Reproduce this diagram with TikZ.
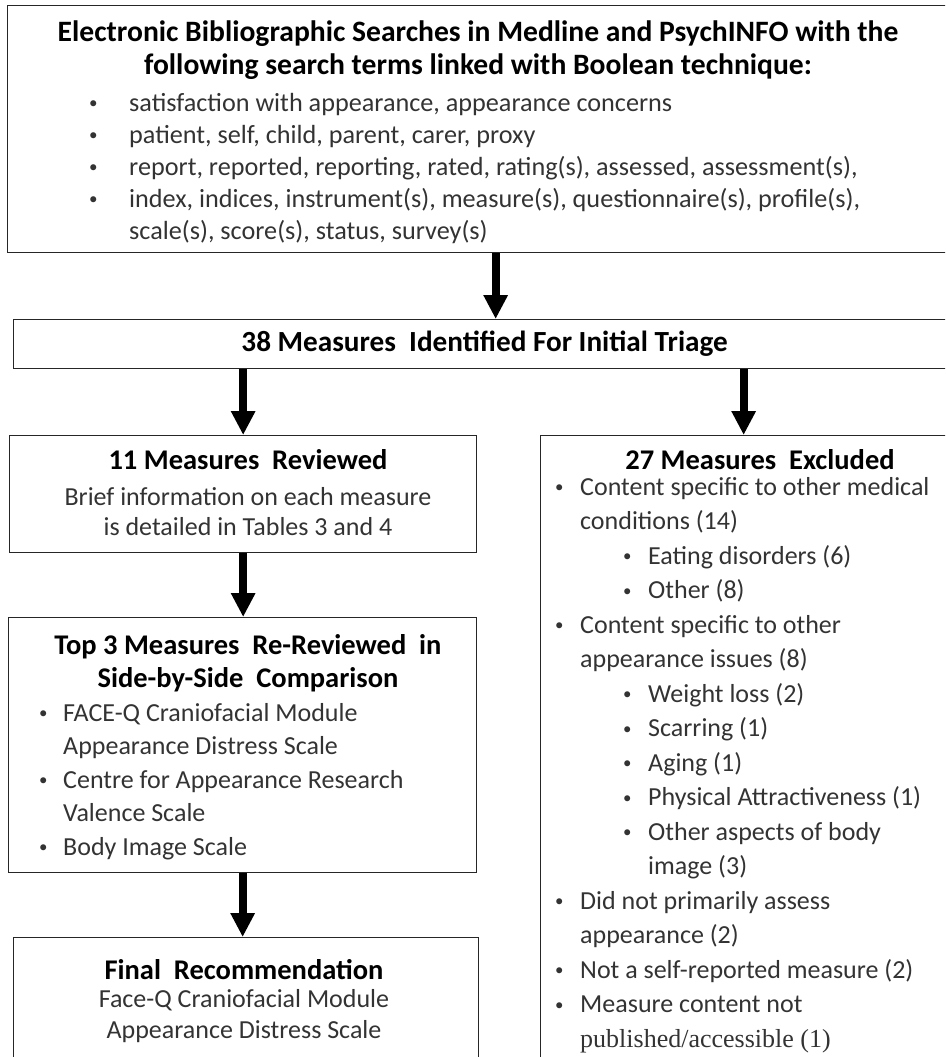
\documentclass[tikz,border=0pt]{standalone}
\usepackage{fontspec}
\setmainfont{Carlito}
\newfontfamily\serifpart{Liberation Serif}
\usetikzlibrary{arrows.meta,positioning}
\newcommand\bul[1][23pt]{\makebox[#1][l]{\raisebox{2.4pt}{\scalebox{0.65}{\textbullet}}}}

\begin{document}
\begin{tikzpicture}[x=1pt,y=-1pt,
  box/.style={draw=black!85,line width=1.3pt,inner sep=0pt,anchor=north west},
  head/.style={inner sep=0pt,font=\fontsize{28.5}{33}\selectfont\bfseries,align=center},
  body/.style={inner sep=0pt,text=black!80,anchor=north},
  arr/.style={line width=8pt,-{Triangle[width=23pt,length=24pt]}}]
\useasboundingbox (0,0) rectangle (945,1057);
\clip (0,0) rectangle (945,1057);

\node[box,minimum width=976pt,minimum height=247pt] (search) at (7,5) {};
\node[box,minimum width=942pt,minimum height=49pt,font=\fontsize{29.2}{33}\selectfont\bfseries] (triage) at (13,319) {38 Measures\ \ Identified For Initial Triage};
\node[box,minimum width=467pt,minimum height=117pt] (rev) at (9,435) {};
\node[box,minimum width=468pt,minimum height=255pt] (top3) at (8,617) {};
\node[box,minimum width=465pt,minimum height=200pt] (final) at (13,937) {};
\node[box,minimum width=406pt,minimum height=700pt] (excl) at (540,435) {};

\node[head,anchor=north,font=\fontsize{29.6}{33}\selectfont\bfseries] (searchhead) at (478,18) {\strut Electronic Bibliographic Searches in Medline and PsychINFO with the\\following search terms linked with Boolean technique:};
\node[body,anchor=north west,align=left,font=\fontsize{26.2}{32}\selectfont] (terms) at (89,88.6) {\strut\bul[40pt]satisfaction with appearance, appearance concerns\\
  \bul[40pt]patient, self, child, parent, carer, proxy\\
  \bul[40pt]report, reported, reporting, rated, rating(s), assessed, assessment(s),\\
  \bul[40pt]index, indices, instrument(s), measure(s), questionnaire(s), profile(s),\\
  \hspace*{40pt}scale(s), score(s), status, survey(s)};

\node[head,anchor=base] (revhead) at (248,469) {11 Measures\ \ Reviewed};
\node[body,align=center,font=\fontsize{26}{30}\selectfont] (revtext) at (248,484) {\strut Brief information on each measure\\is detailed in Tables 3 and 4};

\node[head,anchor=north] (top3head) at (248,631) {\strut Top 3 Measures\ \ Re-Reviewed\ \ in\\Side-by-Side\ \ Comparison};
\node[body,anchor=north west,align=left,font=\fontsize{26}{33.5}\selectfont] (top3list) at (39,697.5) {\strut\bul[24pt]FACE-Q Craniofacial Module\\
  \hspace*{24pt}Appearance Distress Scale\\
  \bul[24pt]Centre for Appearance Research\\
  \hspace*{24pt}Valence Scale\\
  \bul[24pt]Body Image Scale};

\node[head,anchor=base] (finalhead) at (244,979) {Final\ \ Recommendation};
\node[body,align=center,font=\fontsize{26}{31}\selectfont] (finaltext) at (244,985.3) {\strut Face-Q Craniofacial Module\\Appearance Distress Scale};

\node[head,anchor=base] (exclhead) at (760,469) {27 Measures\ \ Excluded};
\node[body,anchor=north west,align=left,font=\fontsize{26}{34.5}\selectfont] (excllist) at (555,470.9) {\strut\bul[25pt]Content specific to other medical\\
  \hspace*{25pt}conditions (14)\\
  \hspace*{68pt}\bul[25pt]Eating disorders (6)\\
  \hspace*{68pt}\bul[25pt]Other (8)\\
  \bul[25pt]Content specific to other\\
  \hspace*{25pt}appearance issues (8)\\
  \hspace*{68pt}\bul[25pt]Weight loss (2)\\
  \hspace*{68pt}\bul[25pt]Scarring (1)\\
  \hspace*{68pt}\bul[25pt]Aging (1)\\
  \hspace*{68pt}\bul[25pt]Physical Attractiveness (1)\\
  \hspace*{68pt}\bul[25pt]Other aspects of body\\
  \hspace*{93pt}image (3)\\
  \bul[25pt]Did not primarily assess\\
  \hspace*{25pt}appearance (2)\\
  \bul[25pt]Not a self-reported measure (2)\\
  \bul[25pt]Measure content not\\
  \hspace*{25pt}{\serifpart published/accessible (1)}};

\draw[arr] (search.south) -- (search.south |- triage.north);
\draw[arr] (triage.south -| rev.north) -- (rev.north);
\draw[arr] (triage.south -| excl.north) -- (excl.north);
\draw[arr] (rev.south) -- (rev.south |- top3.north);
\draw[arr] (top3.south) -- (top3.south |- final.north);
\end{tikzpicture}
\end{document}
